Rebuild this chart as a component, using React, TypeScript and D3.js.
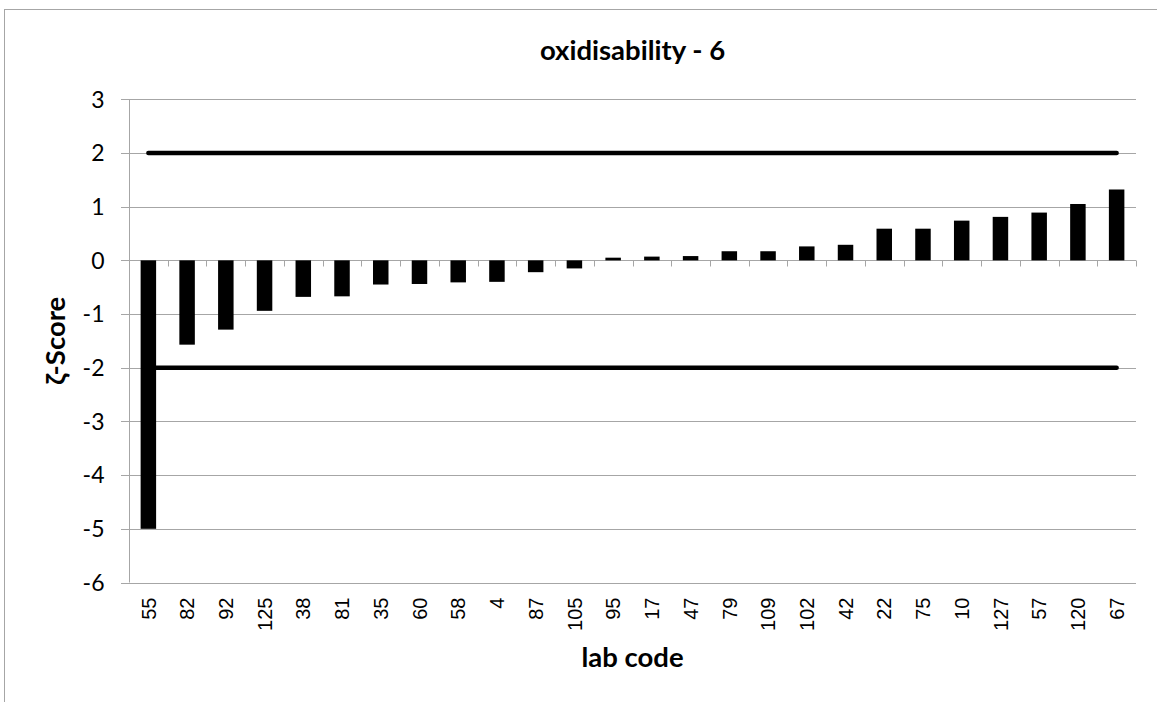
import React from "react";
import * as d3 from "d3";

const labCodes = ["55","82","92","125","38","81","35","60","58","4","87","105","95","17","47","79","109","102","42","22","75","10","127","57","120","67"];
const zetaScores = [-5.0,-1.57,-1.29,-0.94,-0.68,-0.67,-0.45,-0.44,-0.41,-0.40,-0.22,-0.15,0.05,0.07,0.08,0.17,0.17,0.26,0.29,0.59,0.59,0.74,0.81,0.89,1.05,1.32];
const yTicks = [3,2,1,0,-1,-2,-3,-4,-5,-6];
const limits = [2,-2];
const title = "oxidisability - 6";
const xTitle = "lab code";
const yTitle = "ζ-Score";

const W = 1157, H = 702;
const plot = { left: 129, right: 1136, top: 99.3, bottom: 582.5 };
const grid = "#a6a6a6";

export default function App() {
  const x = d3.scaleBand<string>().domain(labCodes).range([plot.left, plot.right]).paddingInner(0.6).paddingOuter(0.3);
  const xb = d3.scaleBand<string>().domain(labCodes).range([plot.left, plot.right]);
  const y = d3.scaleLinear().domain([-6, 3]).range([plot.bottom, plot.top]);
  const step = xb.step();
  const centers = labCodes.map((c) => (xb(c) as number) + step / 2);
  const lineGen = d3.line<[number, number]>().x((d) => d[0]).y((d) => d[1]);
  const boundaries = d3.range(labCodes.length + 1).map((i) => plot.left + i * step);

  return (
    <svg width={W} height={H} style={{ position: "absolute", left: 0, top: 0, background: "#fff" }}>
      <rect x={4.5} y={9.5} width={W + 20} height={H + 20} fill="#fff" stroke={grid} strokeWidth={1} />
      {yTicks.map((t) => (
        <line key={"g" + t} x1={plot.left - 8} x2={plot.right} y1={Math.round(y(t)) + 0.5} y2={Math.round(y(t)) + 0.5} stroke={grid} strokeWidth={1} />
      ))}
      <line x1={plot.left + 0.5} x2={plot.left + 0.5} y1={plot.top} y2={plot.bottom} stroke={grid} strokeWidth={1} />
      {boundaries.map((bx, i) => (
        <line key={"t" + i} x1={Math.round(bx) + 0.5} x2={Math.round(bx) + 0.5} y1={Math.round(y(0)) + 0.5} y2={Math.round(y(0)) + 6.5} stroke={grid} strokeWidth={1} />
      ))}
      {labCodes.map((c, i) => {
        const v = zetaScores[i];
        const y0 = y(0), y1 = y(v);
        return (
          <rect key={"b" + c} x={x(c) as number} width={x.bandwidth()} y={Math.min(y0, y1)} height={Math.abs(y1 - y0)} fill="#000" />
        );
      })}
      {limits.map((l) => (
        <path key={"l" + l} d={lineGen([[centers[0], y(l)], [centers[centers.length - 1], y(l)]]) as string} stroke="#000" strokeWidth={4.5} strokeLinecap="round" fill="none" />
      ))}
      {yTicks.map((t) => (
        <text key={"yl" + t} x={104.5} y={y(t)} dy="0.36em" textAnchor="end" fontFamily="Lato, Carlito, sans-serif" fontSize={23} fill="#000">{t}</text>
      ))}
      {labCodes.map((c, i) => (
        <text key={"xl" + c} transform={`translate(${centers[i]},${597.5}) rotate(-90)`} dy="0.36em" textAnchor="end" fontFamily="'Liberation Sans', Arial, sans-serif" fontSize={20} fill="#000">{c}</text>
      ))}
      <text x={(plot.left + plot.right) / 2} y={59.5} textAnchor="middle" fontFamily="Lato, Carlito, sans-serif" fontWeight="bold" fontSize={27.5} fill="#000">{title}</text>
      <text x={(plot.left + plot.right) / 2} y={666.5} textAnchor="middle" fontFamily="Lato, Carlito, sans-serif" fontWeight="bold" fontSize={27.5} fill="#000">{xTitle}</text>
      <text transform={`translate(65,${(plot.top + plot.bottom) / 2}) rotate(-90)`} textAnchor="middle" fontFamily="Lato, Carlito, sans-serif" fontWeight="bold" fontSize={27.5} fill="#000">{yTitle}</text>
    </svg>
  );
}
